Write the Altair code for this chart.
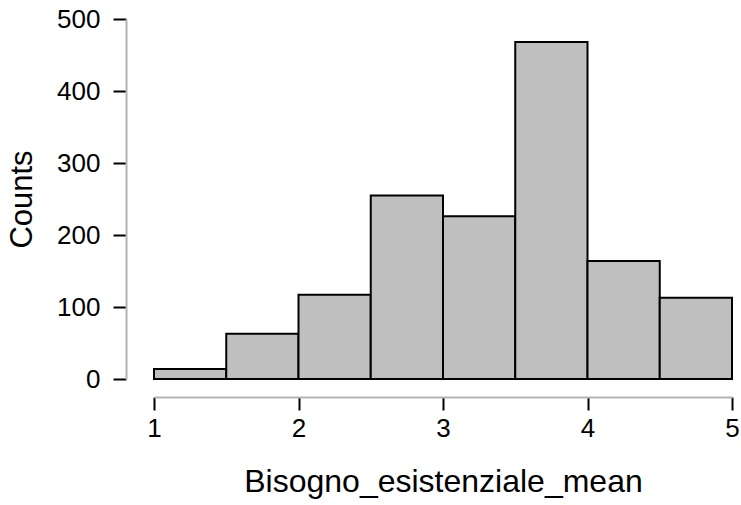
import altair as alt
import pandas as pd

bin_start = [1.0, 1.5, 2.0, 2.5, 3.0, 3.5, 4.0, 4.5]
bin_end = [1.5, 2.0, 2.5, 3.0, 3.5, 4.0, 4.5, 5.0]
counts = [14, 63, 117, 255, 226, 468, 164, 113]
x_ticks = [1, 2, 3, 4, 5]
y_ticks = [0, 100, 200, 300, 400, 500]

df = pd.DataFrame({"start": bin_start, "end": bin_end, "count": counts})

FONT = "Liberation Sans"

chart = alt.Chart(df).mark_rect(
    fill="#bfbfbf", stroke="black", strokeWidth=2
).encode(
    x=alt.X("start:Q", scale=alt.Scale(domain=[1, 5], nice=False, zero=False),
            axis=alt.Axis(values=x_ticks, title="Bisogno_esistenziale_mean",
                          offset=18, grid=False, domainColor="#b3b3b3", domainWidth=2,
                          tickColor="black", tickWidth=2, tickSize=13,
                          labelFontSize=26, labelPadding=5, labelFont=FONT,
                          labelColor="black", labelFlush=False,
                          titleFont=FONT, titleFontSize=32,
                          titleFontWeight="normal", titleColor="black", titlePadding=25)),
    x2="end:Q",
    y=alt.Y("count:Q", scale=alt.Scale(domain=[0, 500], nice=False),
            axis=alt.Axis(values=y_ticks, title="Counts", offset=28, grid=False,
                          domainColor="#b3b3b3", domainWidth=2,
                          tickColor="black", tickWidth=2, tickSize=13,
                          labelFontSize=26, labelPadding=13, labelFont=FONT,
                          labelColor="black", labelFlush=False,
                          titleFont=FONT, titleFontSize=31,
                          titleFontWeight="normal", titleColor="black", titlePadding=18)),
    y2=alt.datum(0),
).properties(
    width=578, height=360,
    autosize=alt.AutoSizeParams(type="none"),
    padding={"left": 154, "top": 19, "right": 9, "bottom": 126},
).configure_view(stroke=None)

chart.save("out.html", embed_options={"renderer": "svg", "actions": False})
